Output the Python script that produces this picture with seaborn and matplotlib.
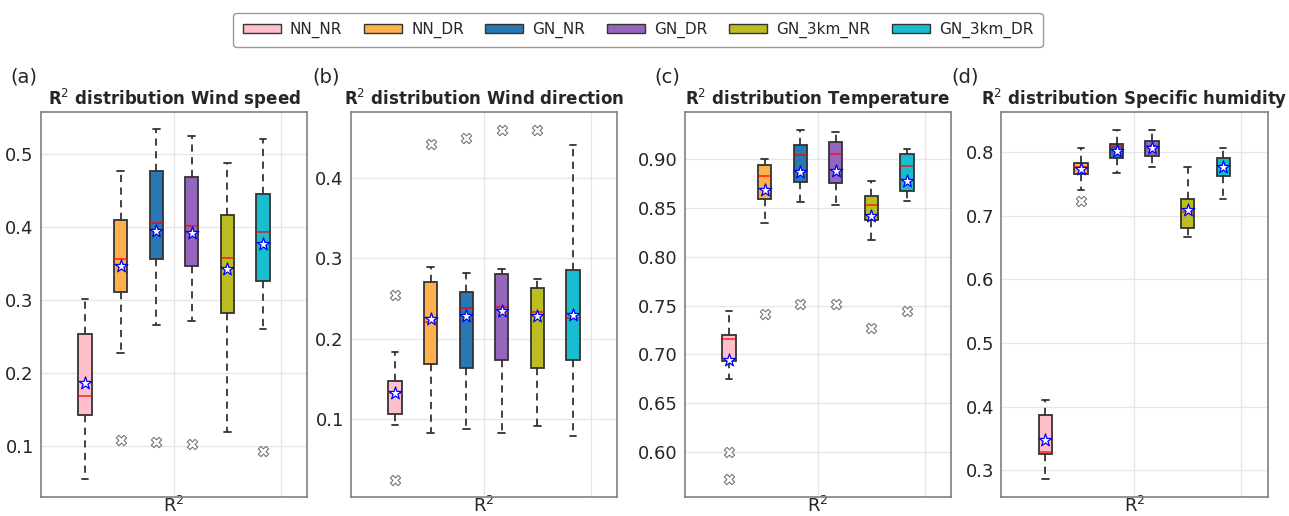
import numpy as np
import pandas as pd
import matplotlib
matplotlib.use("Agg")
import matplotlib.pyplot as plt
from matplotlib.patches import Patch
from matplotlib.ticker import MultipleLocator
import seaborn as sns

# ---------------- data ----------------
groups = ["NN_NR", "NN_DR", "GN_NR", "GN_DR", "GN_3km_NR", "GN_3km_DR"]
colors = ["#FFC0CB", "#FDB04B", "#2878B5", "#9467BD", "#BCBD22", "#17BECF"]

# (a) Wind speed
ws_low = [0.055, 0.227, 0.266, 0.271, 0.119, 0.260]
ws_q1 = [0.142, 0.311, 0.356, 0.346, 0.282, 0.326]
ws_median = [0.168, 0.356, 0.406, 0.401, 0.358, 0.393]
ws_q3 = [0.253, 0.410, 0.477, 0.468, 0.416, 0.445]
ws_high = [0.301, 0.476, 0.534, 0.525, 0.488, 0.520]
ws_mean = [0.186, 0.347, 0.394, 0.391, 0.342, 0.376]
ws_fliers = [[], [0.108], [0.105], [0.102], [], [0.093]]

# (b) Wind direction
wd_low = [0.093, 0.083, 0.088, 0.083, 0.091, 0.079]
wd_q1 = [0.106, 0.169, 0.164, 0.173, 0.164, 0.173]
wd_median = [0.132, 0.221, 0.238, 0.240, 0.233, 0.226]
wd_q3 = [0.147, 0.271, 0.258, 0.281, 0.263, 0.286]
wd_high = [0.183, 0.290, 0.282, 0.287, 0.274, 0.441]
wd_mean = [0.132, 0.225, 0.228, 0.235, 0.228, 0.230]
wd_fliers = [[0.255, 0.024], [0.442], [0.450], [0.460], [0.460], []]

# (c) Temperature
t_low = [0.675, 0.835, 0.856, 0.853, 0.817, 0.857]
t_q1 = [0.693, 0.859, 0.877, 0.876, 0.838, 0.867]
t_median = [0.716, 0.883, 0.904, 0.905, 0.853, 0.893]
t_q3 = [0.720, 0.894, 0.914, 0.918, 0.862, 0.905]
t_high = [0.744, 0.900, 0.930, 0.928, 0.878, 0.910]
t_mean = [0.694, 0.868, 0.887, 0.888, 0.842, 0.878]
t_fliers = [[0.600, 0.572], [0.741], [0.752], [0.752], [0.727], [0.744]]

# (d) Specific humidity
q_low = [0.286, 0.741, 0.767, 0.777, 0.666, 0.726]
q_q1 = [0.326, 0.766, 0.791, 0.794, 0.681, 0.763]
q_median = [0.328, 0.777, 0.808, 0.810, 0.706, 0.778]
q_q3 = [0.387, 0.783, 0.812, 0.817, 0.726, 0.790]
q_high = [0.410, 0.807, 0.835, 0.834, 0.777, 0.806]
q_mean = [0.348, 0.773, 0.802, 0.806, 0.709, 0.776]
q_fliers = [[], [0.723], [], [], [], []]

titles = ["R$^2$ distribution Wind speed", "R$^2$ distribution Wind direction",
          "R$^2$ distribution Temperature", "R$^2$ distribution Specific humidity"]
panel_labels = ["(a)", "(b)", "(c)", "(d)"]

panels = [
    (ws_low, ws_q1, ws_median, ws_q3, ws_high, ws_mean, ws_fliers),
    (wd_low, wd_q1, wd_median, wd_q3, wd_high, wd_mean, wd_fliers),
    (t_low, t_q1, t_median, t_q3, t_high, t_mean, t_fliers),
    (q_low, q_q1, q_median, q_q3, q_high, q_mean, q_fliers),
]

# ---------------- layout / style ----------------
ylims = [(0.030, 0.557), (0.003, 0.482), (0.554, 0.948), (0.258, 0.8625)]
ysteps = [0.1, 0.1, 0.05, 0.1]
ax_lefts = [40.7, 350.7, 684.7, 1001.0]
label_x = [10, 312, 654, 951.5]

W, H = 1289, 516
sns.set_theme(style="whitegrid")
plt.rcParams.update({
    "font.family": ["DejaVu Sans"],
    "grid.color": "#e6e6e6",
    "grid.linewidth": 0.9,
    "axes.edgecolor": "#808080",
    "axes.linewidth": 1.2,
})

fig = plt.figure(figsize=(W / 100, H / 100), dpi=100)
positions = [1 + (i - 2.5) / 3 for i in range(len(groups))]

for k, (lo, q1, med, q3, hi, mean, fl) in enumerate(panels):
    ax = fig.add_axes([ax_lefts[k] / W, 19 / H, 266.6 / W, 384.7 / H])
    rows = []
    for g, p, a, b, c, d, e in zip(groups, positions, lo, q1, med, q3, hi):
        for v in (a, b, c, d, e):
            rows.append({"group": g, "pos": p, "value": v})
    df = pd.DataFrame(rows)
    sns.boxplot(data=df, x="pos", y="value", hue="group", hue_order=groups,
                palette=colors, native_scale=True, dodge=False, whis=(0, 100),
                showfliers=False, width=0.375, saturation=1, linecolor="#333333",
                linewidth=1.3, legend=False, ax=ax,
                medianprops=dict(color="red", alpha=0.65, linewidth=1.4),
                whiskerprops=dict(linestyle=(0, (4, 3))))
    fx, fy = [], []
    for p, vals in zip(positions, fl):
        for v in vals:
            fx.append(p)
            fy.append(v)
    if fx:
        sns.scatterplot(x=fx, y=fy, marker="X", s=55, color="white",
                        edgecolor="#666666", linewidth=0.7, ax=ax, zorder=3,
                        legend=False)
    sns.scatterplot(x=positions, y=mean, marker="*", s=90, color="white",
                    edgecolor="blue", linewidth=0.9, ax=ax, zorder=4, legend=False)
    ax.set_xlim(-0.25, 2.25)
    ax.set_ylim(*ylims[k])
    ax.set_xticks([1, 2])
    ax.set_xticklabels(["R$^2$", ""])
    ax.yaxis.set_major_locator(MultipleLocator(ysteps[k]))
    ax.tick_params(axis="both", labelsize=13, length=0)
    ax.tick_params(axis="y", pad=5)
    ax.tick_params(axis="x", pad=-1)
    ax.set_xlabel("")
    ax.set_ylabel("")
    ax.grid(True, axis="both")
    ax.set_title(titles[k], fontsize=12, fontweight="bold", pad=5)
    fig.text(label_x[k] / W, 1 - 77 / H, panel_labels[k], fontsize=14,
             ha="left", va="center")

handles = [Patch(facecolor=c, edgecolor="#333333", label=g)
           for g, c in zip(groups, colors)]
leg = fig.legend(handles=handles, loc="center", bbox_to_anchor=(638 / W, 1 - 30 / H),
                 ncol=6, fontsize=11, handlelength=2.5, handleheight=0.45,
                 handletextpad=0.6, columnspacing=1.4, borderpad=0.6,
                 frameon=True, fancybox=True)
leg.get_frame().set_edgecolor("#808080")

fig.savefig("out.png", dpi=100)
